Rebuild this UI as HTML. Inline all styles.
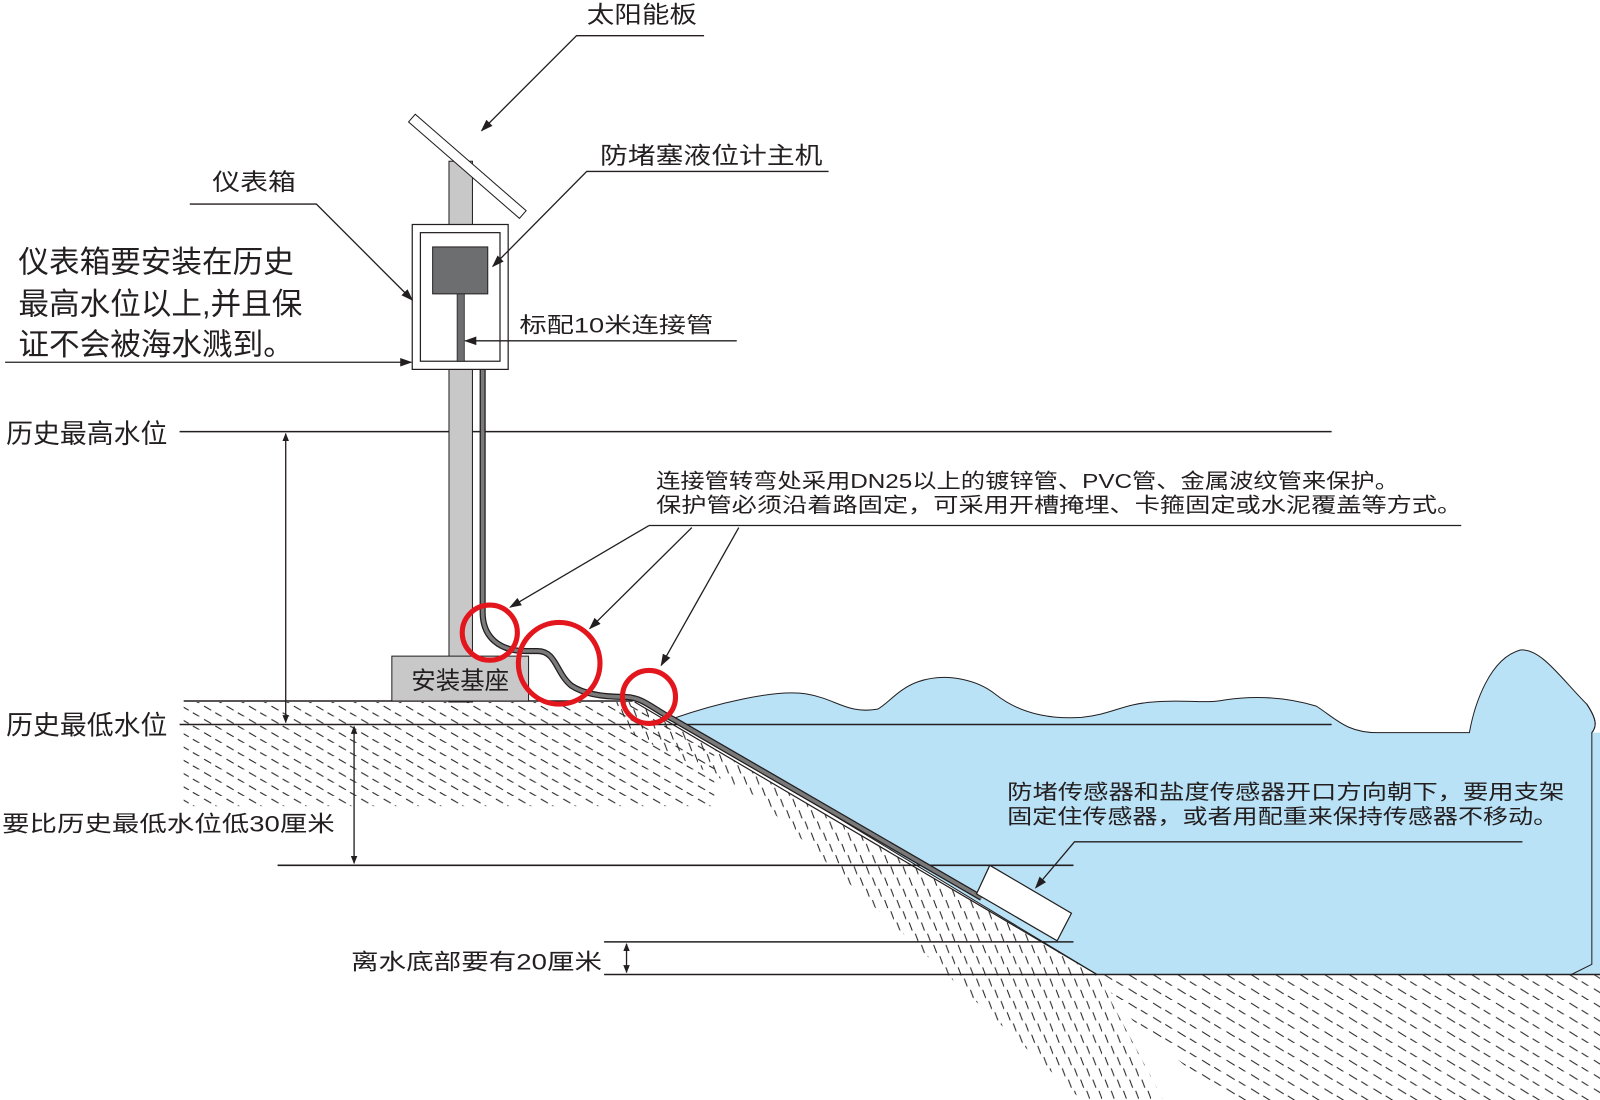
<!DOCTYPE html>
<html><head><meta charset="utf-8"><style>
html,body{margin:0;padding:0;background:#fff;width:1600px;height:1100px;overflow:hidden}
svg{display:block}
text{font-family:"Liberation Sans","Noto Sans CJK SC",sans-serif;fill:#231f20}
</style></head><body>
<svg width="1600" height="1100" viewBox="0 0 1568 1078" preserveAspectRatio="none" xmlns="http://www.w3.org/2000/svg">
<defs>
<marker id="ar" viewBox="0 0 10 10" refX="9" refY="5" markerWidth="8" markerHeight="8" orient="auto-start-reverse" markerUnits="userSpaceOnUse"><path d="M0,1 L10,5 L0,9 z" fill="#231f20"/></marker>
<marker id="ar2" viewBox="0 0 10 10" refX="9" refY="5" markerWidth="12" markerHeight="12" orient="auto-start-reverse" markerUnits="userSpaceOnUse"><path d="M0,1.5 L10,5 L0,8.5 z" fill="#231f20"/></marker>
<pattern id="h1" width="22" height="13" patternUnits="userSpaceOnUse">
<line x1="2" y1="3" x2="9" y2="7" stroke="#231f20" stroke-width="1"/>
<line x1="13" y1="9.5" x2="20" y2="13.5" stroke="#231f20" stroke-width="1"/>
</pattern>
<pattern id="h2" width="12" height="22" patternUnits="userSpaceOnUse">
<line x1="3" y1="2" x2="6" y2="10" stroke="#231f20" stroke-width="1"/>
<line x1="9" y1="13" x2="12" y2="21" stroke="#231f20" stroke-width="1"/>
</pattern>
<pattern id="h3" width="24" height="14" patternUnits="userSpaceOnUse">
<line x1="2" y1="3" x2="10" y2="8" stroke="#231f20" stroke-width="1"/>
<line x1="14" y1="10" x2="22" y2="15" stroke="#231f20" stroke-width="1"/>
</pattern>
</defs>

<!-- ground hatching -->
<polygon points="180,688 620,688 700,735 700,790 180,790" fill="url(#h1)"/>
<polygon points="600,688 622,688 1075,955 1140,1078 1060,1078 740,780 620,720" fill="url(#h2)"/>
<polygon points="1075,955 1568,955 1568,1078 1200,1078 1110,1000" fill="url(#h3)"/>

<!-- water -->
<path d="M660,704 C700,690 760,675 790,680 C820,685 830,700 860,695 C870,690 880,675 900,668 C930,658 960,668 975,680 C1000,700 1030,705 1060,703 C1090,700 1100,690 1130,688 C1160,685 1180,690 1200,686 C1240,680 1270,686 1290,692 C1310,705 1320,718 1350,718 C1370,718 1385,718 1440,718 C1445,690 1460,645 1490,637 C1510,635 1530,665 1555,690 C1565,705 1565,712 1560,718 L1560,945 L1540,955 L1075,955 Z" fill="#b9e2f6" stroke="#231f20" stroke-width="1"/>
<line x1="622" y1="688" x2="1075" y2="955" stroke="#231f20" stroke-width="1.2"/>
<rect x="1540" y="718" width="30" height="237" fill="#b9e2f6"/>
<path d="M1555,690 C1565,705 1565,712 1560,718 L1560,945 L1540,955" fill="none" stroke="#231f20" stroke-width="1"/>

<!-- horizontal lines -->
<line x1="176" y1="423" x2="1305" y2="423" stroke="#231f20" stroke-width="1.5"/>
<line x1="180" y1="687" x2="620" y2="687" stroke="#231f20" stroke-width="1.5"/>
<line x1="176" y1="710" x2="1305" y2="710" stroke="#231f20" stroke-width="1.5"/>
<line x1="272" y1="848" x2="1052" y2="848" stroke="#231f20" stroke-width="1.5"/>
<line x1="592" y1="923" x2="1052" y2="923" stroke="#231f20" stroke-width="1.5"/>
<line x1="592" y1="955" x2="1568" y2="955" stroke="#231f20" stroke-width="1.5"/>

<!-- pole -->
<rect x="440" y="158" width="23" height="530" fill="#c8c8c8" stroke="#231f20" stroke-width="1"/>
<!-- solar panel -->
<g transform="translate(458,163) rotate(41)">
<rect x="-72" y="-5" width="144" height="10" fill="#fff" stroke="#231f20" stroke-width="1"/>
</g>
<!-- base -->
<rect x="384" y="643" width="134" height="44" fill="#c8c8c8" stroke="#231f20" stroke-width="1"/>
<text x="451" y="675" font-size="24" text-anchor="middle" fill="#444">安装基座</text>

<!-- cable -->
<path d="M473,362 L473,600 C473,625 490,638 515,638 L527,638 C545,638 545,660 560,672 C575,682 600,683 612,683 C630,683 640,695 660,705 L962,880" fill="none" stroke="#231f20" stroke-width="6"/>
<path d="M473,362 L473,600 C473,625 490,638 515,638 L527,638 C545,638 545,660 560,672 C575,682 600,683 612,683 C630,683 640,695 660,705 L962,880" fill="none" stroke="#7a7a7a" stroke-width="3.5"/>

<!-- meter box -->
<rect x="404" y="220" width="94" height="142" fill="#fff" stroke="#231f20" stroke-width="1.2"/>
<rect x="412" y="228" width="78" height="126" fill="#fff" stroke="#231f20" stroke-width="1.2"/>
<rect x="424" y="242" width="54" height="46" fill="#6d6e70" stroke="#231f20" stroke-width="1"/>
<rect x="448" y="288" width="7" height="66" fill="#6d6e70" stroke="#231f20" stroke-width="0.8"/>

<!-- sensor -->
<polygon points="970,848 1050,895 1036,922 957,876" fill="#fff" stroke="#231f20" stroke-width="1.2"/>

<!-- red circles -->
<circle cx="480" cy="620" r="27" fill="none" stroke="#e2161c" stroke-width="5"/>
<circle cx="548" cy="650" r="40" fill="none" stroke="#e2161c" stroke-width="5"/>
<circle cx="636" cy="683" r="26" fill="none" stroke="#e2161c" stroke-width="5"/>

<!-- leaders -->
<g stroke="#231f20" stroke-width="1.3" fill="none">
<polyline points="690,35 565,35 472,128" marker-end="url(#ar2)"/>
<polyline points="812,168 575,168 483,261" marker-end="url(#ar2)"/>
<polyline points="186,200 310,200 404,294" marker-end="url(#ar2)"/>
<line x1="5" y1="355" x2="403" y2="355" marker-end="url(#ar2)"/>
<line x1="722" y1="334" x2="456" y2="334" marker-end="url(#ar2)"/>
<line x1="636" y1="515" x2="1432" y2="515"/>
<line x1="636" y1="515" x2="500" y2="595" marker-end="url(#ar2)"/>
<line x1="678" y1="517" x2="578" y2="616" marker-end="url(#ar2)"/>
<line x1="724" y1="517" x2="648" y2="652" marker-end="url(#ar2)"/>
<polyline points="1492,825 1053,825 1015,870" marker-end="url(#ar2)"/>
<line x1="280" y1="425" x2="280" y2="708" marker-start="url(#ar)" marker-end="url(#ar)"/>
<line x1="347" y1="712" x2="347" y2="846" marker-start="url(#ar)" marker-end="url(#ar)"/>
<line x1="614" y1="925" x2="614" y2="953" marker-start="url(#ar)" marker-end="url(#ar)"/>
</g>

<!-- labels -->
<text x="575" y="22" font-size="23" textLength="108" lengthAdjust="spacingAndGlyphs">太阳能板</text>
<text x="588" y="160" font-size="23" textLength="218" lengthAdjust="spacingAndGlyphs">防堵塞液位计主机</text>
<text x="208" y="186" font-size="23" textLength="82" lengthAdjust="spacingAndGlyphs">仪表箱</text>
<text x="18" y="267" font-size="30">仪表箱要安装在历史</text>
<text x="18" y="308" font-size="30">最高水位以上,并且保</text>
<text x="18" y="348" font-size="30">证不会被海水溅到。</text>
<text x="509" y="326" font-size="21" textLength="190" lengthAdjust="spacingAndGlyphs">标配10米连接管</text>
<text x="6" y="434" font-size="26" textLength="158" lengthAdjust="spacingAndGlyphs">历史最高水位</text>
<text x="6" y="720" font-size="26" textLength="158" lengthAdjust="spacingAndGlyphs">历史最低水位</text>
<text x="2" y="815" font-size="22" textLength="326" lengthAdjust="spacingAndGlyphs">要比历史最低水位低30厘米</text>
<text x="344" y="950" font-size="22" textLength="246" lengthAdjust="spacingAndGlyphs">离水底部要有20厘米</text>
<text x="643" y="478" font-size="20" textLength="728" lengthAdjust="spacingAndGlyphs">连接管转弯处采用DN25以上的镀锌管、PVC管、金属波纹管来保护。</text>
<text x="643" y="502" font-size="20" textLength="790" lengthAdjust="spacingAndGlyphs">保护管必须沿着路固定，可采用开槽掩埋、卡箍固定或水泥覆盖等方式。</text>
<text x="987" y="783" font-size="20" textLength="546" lengthAdjust="spacingAndGlyphs">防堵传感器和盐度传感器开口方向朝下，要用支架</text>
<text x="987" y="807" font-size="20" textLength="540" lengthAdjust="spacingAndGlyphs">固定住传感器，或者用配重来保持传感器不移动。</text>
</svg>
</body></html>
